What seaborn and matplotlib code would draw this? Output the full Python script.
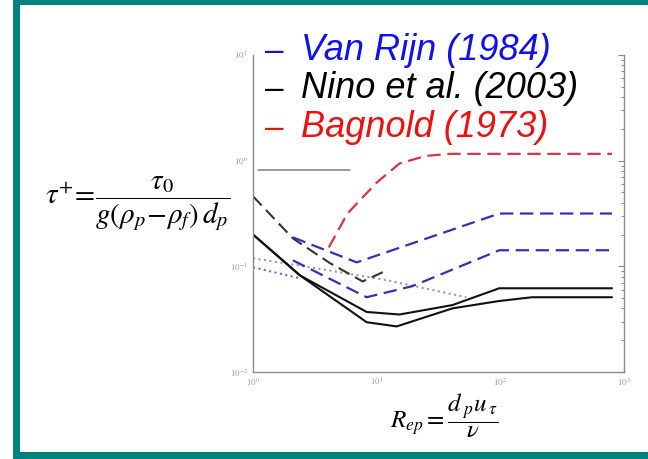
import numpy as np
import pandas as pd
import seaborn as sns
import matplotlib
matplotlib.use("Agg")
import matplotlib.pyplot as plt
from matplotlib.patches import Rectangle
from matplotlib.ticker import LogLocator, NullFormatter
from matplotlib import font_manager as fm

# ---- data ----
grey_x = [1.1, 6.1]
grey_y = [0.82, 0.82]

bagnold_x = [4.1, 5.8, 10, 15.3, 25, 39, 800]
bagnold_y = [0.151, 0.316, 0.62, 0.94, 1.11, 1.16, 1.16]

vanrijn_up_x = [2.1, 6.9, 12, 98, 800]
vanrijn_up_y = [0.188, 0.109, 0.136, 0.316, 0.316]

vanrijn_lo_x = [2.1, 8.3, 19.5, 98, 800]
vanrijn_lo_y = [0.114, 0.051, 0.065, 0.142, 0.142]

nino_dash_x = [1.0, 2.1, 4.2, 7.7, 11.2]
nino_dash_y = [0.46, 0.184, 0.107, 0.072, 0.088]

solid_up_x = [1.0, 2.4, 8.3, 15.3, 41, 98, 800]
solid_up_y = [0.2, 0.082, 0.037, 0.035, 0.043, 0.062, 0.062]

solid_lo_x = [1.0, 2.4, 8.3, 14.5, 41, 98, 181, 800]
solid_lo_y = [0.2, 0.082, 0.0296, 0.027, 0.040, 0.047, 0.051, 0.051]

dot_grey_x = [1.0, 2.9, 12, 53]
dot_grey_y = [0.119, 0.098, 0.074, 0.051]

dot_blue_x = [1.0, 2.4]
dot_blue_y = [0.098, 0.077]

x_ticks = [1, 10, 100, 1000]
x_ticklabels = [r'$10^{0}$', r'$10^{1}$', r'$10^{2}$', r'$10^{3}$']
y_ticks = [0.01, 0.1, 1, 10]
y_ticklabels = [r'$10^{-2}$', r'$10^{-1}$', r'$10^{0}$', r'$10^{1}$']

legend_labels = ["Van Rijn (1984)", "Nino et al. (2003)", "Bagnold (1973)"]
legend_colors = ["#1010ee", "#000000", "#ee1010"]

sns.set_theme(style="white")
plt.rcParams['mathtext.fontset'] = 'stix'
plt.rcParams['font.family'] = ['Liberation Sans', 'DejaVu Sans']

# find an italic sans font file
italic_fp = None
for fam in ['Liberation Sans', 'Arimo', 'Roboto', 'Open Sans', 'Lato', 'Noto Sans', 'Inter', 'DejaVu Sans']:
    for f in fm.fontManager.ttflist:
        if f.name == fam and f.style in ('italic', 'oblique') and f.weight in (400, 'normal', 'regular', 'book'):
            italic_fp = fm.FontProperties(fname=f.fname)
            break
    if italic_fp is not None:
        break
if italic_fp is None:
    italic_fp = fm.FontProperties(family='DejaVu Sans', style='oblique')

W, H = 648, 459
fig = plt.figure(figsize=(W / 100, H / 100), dpi=100)
fig.patch.set_facecolor("white")

def fx(px):
    return px / W

def fy(py):
    return 1 - py / H

ax = fig.add_axes([fx(253), fy(372), fx(624) - fx(253), fy(55) - fy(372)])
ax.set_xscale("log")
ax.set_yscale("log")

def draw(x, y, color, ls, lw=1.5, dashes=None):
    df = pd.DataFrame({"x": x, "y": y})
    l = sns.lineplot(x="x", y="y", data=df, ax=ax, color=color, linewidth=lw,
                     sort=False, estimator=None).lines[-1]
    l.set_linestyle(ls)
    if dashes is not None:
        l.set_dashes(dashes)
    return l

draw(grey_x, grey_y, "#8a8a8a", "-", lw=1.2)
draw(dot_grey_x, dot_grey_y, "#9a9a9a", ":", lw=1.5)
draw(dot_blue_x, dot_blue_y, "#6a6ae0", ":", lw=1.5)
draw(solid_up_x, solid_up_y, "#111111", "-", lw=1.5)
draw(solid_lo_x, solid_lo_y, "#111111", "-", lw=1.5)
draw(nino_dash_x, nino_dash_y, "#333333", "--", lw=1.5, dashes=(6, 3))
draw(vanrijn_up_x, vanrijn_up_y, "#3030c0", "--", lw=1.6, dashes=(6, 3))
draw(vanrijn_lo_x, vanrijn_lo_y, "#3030c0", "--", lw=1.6, dashes=(6, 3))
draw(bagnold_x, bagnold_y, "#e0303f", "--", lw=1.6, dashes=(6, 3))

ax.set_xlim(1, 1000)
ax.set_ylim(0.01, 10)
ax.set_xlabel("")
ax.set_ylabel("")
ax.set_xticks(x_ticks)
ax.set_xticklabels(x_ticklabels)
ax.set_yticks(y_ticks)
ax.set_yticklabels(y_ticklabels)
ax.xaxis.set_minor_locator(LogLocator(base=10, subs=np.arange(2, 10)))
ax.yaxis.set_minor_locator(LogLocator(base=10, subs=np.arange(2, 10)))
ax.xaxis.set_minor_formatter(NullFormatter())
ax.yaxis.set_minor_formatter(NullFormatter())
ax.tick_params(which="both", direction="in", top=False, right=True,
               colors="#888888", labelcolor="#999999", labelsize=6.5)
ax.tick_params(which="major", length=4, width=0.8)
ax.tick_params(which="minor", length=2.5, width=0.7)
ax.tick_params(axis="x", pad=3)
for s in ["left", "right", "bottom"]:
    ax.spines[s].set_color("#8a8a8a")
    ax.spines[s].set_linewidth(1.0)
ax.spines["top"].set_visible(False)

# legend-like coloured texts
baselines = [60, 98, 137]
for lab, col, yb in zip(legend_labels, legend_colors, baselines):
    fig.text(fx(265), fy(yb), "–", color=col, fontsize=24, va="baseline", ha="left")
    fp = italic_fp.copy()
    fp.set_size(26)
    fig.text(fx(301), fy(yb), lab, color=col, fontproperties=fp,
             va="baseline", ha="left")

# formulas
fig.text(fx(138), fy(204), r'$\tau^{+}\!=\!\dfrac{\tau_{0}}{g(\rho_{p}\!-\!\rho_{f})\,d_{p}}$',
         fontsize=21, ha="center", va="center", color="black")
fig.text(fx(444), fy(416), r'$R_{ep}=\dfrac{d_{\;p}u_{\,\tau}}{\nu}$',
         fontsize=18, ha="center", va="center", color="black")

# teal frame
teal = "#00827e"
fig.patches.append(Rectangle((fx(13), fy(5)), 1, fy(0) - fy(5), transform=fig.transFigure,
                             facecolor=teal, edgecolor="none"))
fig.patches.append(Rectangle((fx(13), 0), fx(20) - fx(13), 1, transform=fig.transFigure,
                             facecolor=teal, edgecolor="none"))
fig.patches.append(Rectangle((fx(13), 0), 1, fy(452), transform=fig.transFigure,
                             facecolor=teal, edgecolor="none"))

fig.savefig("out.png", dpi=100, facecolor="white")
